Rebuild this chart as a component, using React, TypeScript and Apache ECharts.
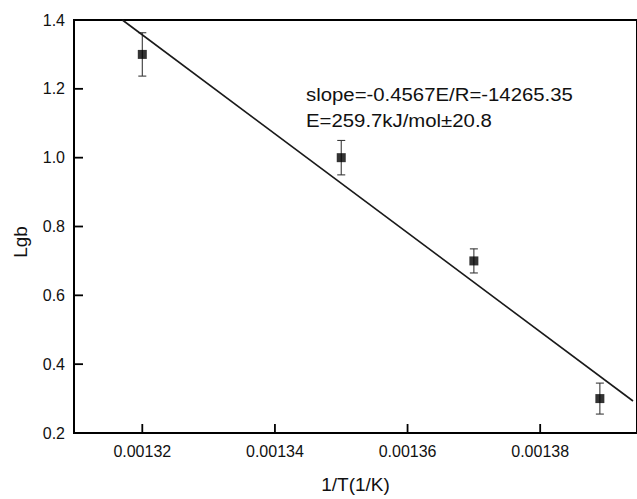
import React, { useEffect, useRef } from "react";
import * as echarts from "echarts";

const xValues = [0.00132, 0.00135, 0.00137, 0.001389];
const yValues = [1.3, 1.0, 0.7, 0.3];
const yErrors = [0.063, 0.05, 0.035, 0.045];
const fitX = [0.001317, 0.001394];
const fitY = [1.4, 0.293];
const xTickValues = [0.00132, 0.00134, 0.00136, 0.00138];
const yTickValues = [0.2, 0.4, 0.6, 0.8, 1.0, 1.2, 1.4];
const annotationLines = ["slope=-0.4567E/R=-14265.35", "E=259.7kJ/mol\u00B120.8"];
const xTitle = "1/T(1/K)";
const yTitle = "Lgb";

const FONT = "Liberation Sans, Arial, Helvetica, sans-serif";

export default function App() {
  const ref = useRef<HTMLDivElement>(null);
  useEffect(() => {
    if (!ref.current) return;
    const chart = echarts.init(ref.current, null, { renderer: "svg" });
    const xMin = 0.0013097;
    const xMax = 0.0013946;
    const yMin = 0.2;
    const yMax = 1.4;
    const TICK = 9;
    chart.setOption({
      animation: false,
      grid: {
        left: 74,
        top: 20,
        right: -3,
        bottom: 65,
        show: true,
        borderColor: "#000",
        borderWidth: 2,
        backgroundColor: "transparent",
      },
      xAxis: [
        {
          type: "value",
          min: xMin,
          max: xMax,
          name: xTitle,
          nameLocation: "middle",
          nameGap: 42,
          nameTextStyle: { fontSize: 19, color: "#111", fontFamily: FONT },
          axisLine: { show: true, onZero: false, lineStyle: { color: "#000", width: 2 } },
          axisTick: { show: false },
          axisLabel: {
            customValues: xTickValues,
            margin: 10,
            fontSize: 16,
            color: "#111",
            fontFamily: FONT,
            formatter: (v: number) => String(Number(v.toFixed(5))),
          },
          splitLine: { show: false },
        },
      ],
      yAxis: {
        type: "value",
        min: yMin,
        max: yMax,
        interval: 0.2,
        axisLine: { show: true, onZero: false, lineStyle: { color: "#000", width: 2 } },
        axisTick: { show: false },
        axisLabel: {
          margin: 9,
          fontSize: 16,
          color: "#111",
          fontFamily: FONT,
          formatter: (v: number) => v.toFixed(1),
        },
        splitLine: { show: false },
      },
      graphic: [
        {
          type: "text",
          x: 20,
          y: 242,
          rotation: Math.PI / 2,
          style: { text: yTitle, fontSize: 19, fontFamily: FONT, fill: "#111", align: "center", verticalAlign: "middle" },
        },
        {
          type: "text",
          x: 306,
          y: 94,
          scaleX: 1.1,
          style: { text: annotationLines[0], fontSize: 18.5, fontFamily: FONT, fill: "#111", align: "left", verticalAlign: "middle" },
        },
        {
          type: "text",
          x: 306,
          y: 120,
          scaleX: 1.1,
          style: { text: annotationLines[1], fontSize: 18.5, fontFamily: FONT, fill: "#111", align: "left", verticalAlign: "middle" },
        },
      ],
      series: [
        {
          type: "custom",
          data: xTickValues.map((v) => [v, yMin]),
          encode: { x: 0, y: 1 },
          clip: false,
          silent: true,
          renderItem: (params: any, api: any) => {
            const p = api.coord([api.value(0), api.value(1)]);
            return { type: "line", shape: { x1: p[0], y1: p[1], x2: p[0], y2: p[1] - TICK }, style: { stroke: "#000", lineWidth: 1.8 } };
          },
        },
        {
          type: "custom",
          data: yTickValues.map((v) => [xMin, v]),
          encode: { x: 0, y: 1 },
          clip: false,
          silent: true,
          renderItem: (params: any, api: any) => {
            const p = api.coord([api.value(0), api.value(1)]);
            return { type: "line", shape: { x1: p[0], y1: p[1], x2: p[0] + TICK, y2: p[1] }, style: { stroke: "#000", lineWidth: 1.8 } };
          },
        },
        {
          type: "line",
          data: fitX.map((x, i) => [x, fitY[i]]),
          symbol: "none",
          lineStyle: { color: "#1a1a1a", width: 1.6 },
          clip: true,
        },
        {
          type: "custom",
          data: xValues.map((x, i) => [x, yValues[i] - yErrors[i], yValues[i] + yErrors[i]]),
          encode: { x: 0, y: [1, 2] },
          renderItem: (params: any, api: any) => {
            const x = api.value(0);
            const lo = api.coord([x, api.value(1)]);
            const hi = api.coord([x, api.value(2)]);
            const w = 4;
            const style = { stroke: "#3a3a3a", lineWidth: 1.1 };
            return {
              type: "group",
              children: [
                { type: "line", shape: { x1: hi[0], y1: hi[1], x2: lo[0], y2: lo[1] }, style },
                { type: "line", shape: { x1: hi[0] - w, y1: hi[1], x2: hi[0] + w, y2: hi[1] }, style },
                { type: "line", shape: { x1: lo[0] - w, y1: lo[1], x2: lo[0] + w, y2: lo[1] }, style },
              ],
            };
          },
        },
        {
          type: "scatter",
          data: xValues.map((x, i) => [x, yValues[i]]),
          symbol: "rect",
          symbolSize: [9, 9],
          itemStyle: { color: "#000000" },
        },
      ],
    });
    return () => chart.dispose();
  }, []);
  return <div ref={ref} style={{ position: "fixed", left: 0, top: 0, width: 637, height: 499, background: "#fff" }} />;
}
